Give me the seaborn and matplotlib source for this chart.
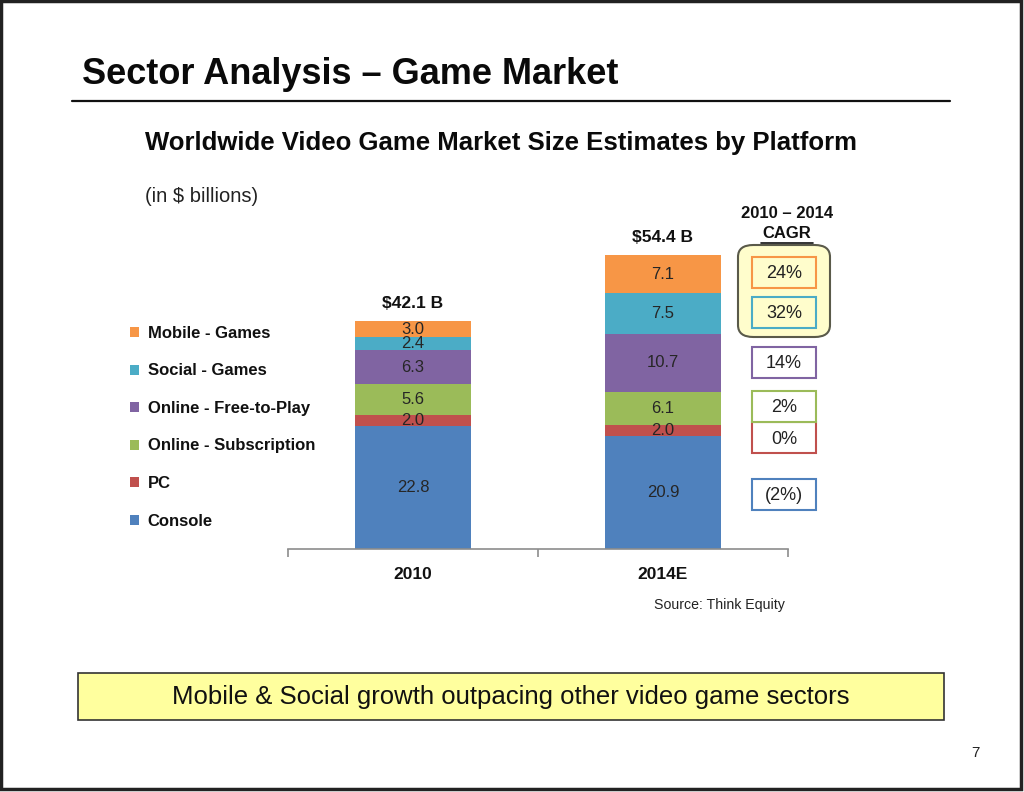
import matplotlib
matplotlib.use("Agg")
import matplotlib.pyplot as plt
import matplotlib.patches as mpatches
from matplotlib.lines import Line2D
import seaborn as sns
import numpy as np

# ---- data ----
years = ["2010", "2014E"]
series = ["Console", "PC", "Online - Subscription", "Online - Free-to-Play",
          "Social - Games", "Mobile - Games"]
console = [22.8, 20.9]
pc = [2.0, 2.0]
subscription = [5.6, 6.1]
free_to_play = [6.3, 10.7]
social = [2.4, 7.5]
mobile = [3.0, 7.1]
totals = ["$42.1 B", "$54.4 B"]
cagr = ["(2%)", "0%", "2%", "14%", "32%", "24%"]
colors = ["#4F81BD", "#C0504D", "#9BBB59", "#8064A2", "#4BACC6", "#F79646"]

values = [console, pc, subscription, free_to_play, social, mobile]

W, H = 1024, 792
sns.set_theme(style="white")
plt.rcParams["font.family"] = ["Liberation Sans", "DejaVu Sans"]

fig = plt.figure(figsize=(W / 100, H / 100), dpi=100)
fig.patch.set_facecolor("white")


def fx(x):
    return x / W


def fy(y):
    return 1 - y / H


# axes placement
ax_left, ax_right, ax_bottom, ax_top = 288, 788, 549, 200
ax = fig.add_axes([fx(ax_left), fy(ax_bottom), (ax_right - ax_left) / W, (ax_bottom - ax_top) / H])
ax.set_facecolor("none")

cum = np.zeros(len(years))
for name, vals, col in zip(series, values, colors):
    sns.barplot(x=years, y=vals, bottom=cum, color=col, saturation=1, width=0.464,
                ax=ax, label=name, linewidth=0)
    for i, v in enumerate(vals):
        ax.text(i, cum[i] + v / 2, f"{v:.1f}", ha="center", va="center",
                fontsize=12, color="#262626")
    cum = cum + np.array(vals)

if ax.get_legend() is not None:
    ax.get_legend().remove()

px_per_unit = 42.1 / 228.0
ax.set_ylim(0, (ax_bottom - ax_top) * px_per_unit)
ax.set_xlim(-0.5, 1.5)

# totals above bars
for i, t in enumerate(totals):
    ax.text(i, cum[i] + 3.2, t, ha="center", va="center",
            fontsize=12.5, fontweight="bold", color="#111111")

for s in ["top", "right", "left"]:
    ax.spines[s].set_visible(False)
ax.spines["bottom"].set_color("#8c8c8c")
ax.spines["bottom"].set_linewidth(1.2)
ax.set_yticks([])
ax.set_xticks([0, 1])
ax.set_xticklabels(years, fontsize=12.5, fontweight="bold", color="#111111")
ax.tick_params(axis="x", which="major", length=0, pad=13)
ax.set_xticks([-0.5, 0.5, 1.5], minor=True)
ax.tick_params(axis="x", which="minor", length=6, width=1.2, color="#8c8c8c", bottom=True)
ax.set_xlabel("")
ax.set_ylabel("")

# legend (reverse order)
handles, labels = ax.get_legend_handles_labels()
leg = fig.legend(handles[::-1], labels[::-1], loc="upper left",
                 bbox_to_anchor=(fx(130), fy(326)), frameon=False,
                 borderaxespad=0, borderpad=0, handlelength=0.55, handleheight=0.55,
                 handletextpad=0.5, labelspacing=1.35,
                 prop={"size": 12, "weight": "bold"})
for t in leg.get_texts():
    t.set_color("#111111")

# titles
fig.text(fx(82), fy(74), "Sector Analysis \u2013 Game Market", fontsize=26,
         fontweight="bold", ha="left", va="center", color="#0a0a0a")
fig.add_artist(Line2D([fx(72), fx(950)], [fy(101), fy(101)], color="#111111", lw=1.6))
fig.text(fx(145), fy(143), "Worldwide Video Game Market Size Estimates by Platform",
         fontsize=18.5, fontweight="bold", ha="left", va="center", color="#0a0a0a")
fig.text(fx(145), fy(196), "(in $ billions)", fontsize=14.5, ha="left", va="center",
         color="#222222")

# CAGR header
fig.text(fx(787), fy(213), "2010 \u2013 2014", fontsize=12, fontweight="bold",
         ha="center", va="center", color="#111111")
fig.text(fx(787), fy(234), "CAGR", fontsize=12, fontweight="bold",
         ha="center", va="center", color="#111111")
fig.add_artist(Line2D([fx(761), fx(813)], [fy(243), fy(243)], color="#111111", lw=1.2))

# rounded highlight container
fig.add_artist(mpatches.FancyBboxPatch((fx(738), fy(337)), fx(92), (337 - 245) / H,
                                       boxstyle="round,pad=0,rounding_size=0.015",
                                       facecolor="#FFFDCC", edgecolor="#5a5a4a", lw=1.5,
                                       transform=fig.transFigure))

cagr_centers = [494, 437, 406, 362, 312, 272]
for txt, yc, col, i in zip(cagr, cagr_centers, colors, range(6)):
    fc = "#FFFDCC" if i >= 4 else "white"
    fig.add_artist(mpatches.Rectangle((fx(752), fy(yc + 15.5)), fx(64), 31 / H,
                                      facecolor=fc, edgecolor=col, lw=1.5,
                                      transform=fig.transFigure))
    fig.text(fx(784), fy(yc + 2), txt, fontsize=13, ha="center", va="center",
             color="#222222")

# source
fig.text(fx(785), fy(605), "Source: Think Equity", fontsize=10.2, ha="right",
         va="center", color="#222222")

# bottom yellow box
fig.add_artist(mpatches.Rectangle((fx(78), fy(720)), fx(866), 47 / H,
                                  facecolor="#FFFF9E", edgecolor="#333333", lw=1.2,
                                  transform=fig.transFigure))
fig.text(fx(511), fy(697), "Mobile & Social growth outpacing other video game sectors",
         fontsize=18.5, ha="center", va="center", color="#111111")

# page number
fig.text(fx(975), fy(753), "7", fontsize=11, ha="center", va="center", color="#222222")

# slide frame
fig.add_artist(mpatches.Rectangle((fx(1), fy(789)), fx(1020), 788 / H, facecolor="none",
                                  edgecolor="#222222", lw=2.5, transform=fig.transFigure))

fig.savefig("out.png", dpi=100, facecolor="white")
